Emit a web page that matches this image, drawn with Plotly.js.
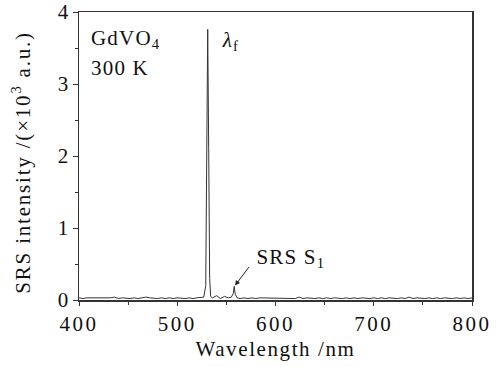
<!DOCTYPE html>
<html><head><meta charset="utf-8">
<script src="https://cdn.plot.ly/plotly-3.0.1.min.js"></script>
<style>
html,body{margin:0;padding:0;background:#fff}
#chart g.xtick text{letter-spacing:2.5px}
#chart text.xtitle{letter-spacing:1.6px}
#chart g.annotation text{letter-spacing:1.2px}
#chart g.annotation.ylab text{letter-spacing:1.8px}
</style>
</head><body><div id="chart" style="width:496px;height:367px"></div>
<script>
// Wavelength (nm)
var wavelength = [400,404,408,412,416,420,424,428,432,436,440,444,448,452,456,460,464,468,472,476,480,484,488,492,496,500,504,508,512,516,520,524,
  527,529,530,531,532,533,534,536,
  540,544,548,552,555,557,558,559,561,
  564,568,572,576,580,584,588,592,596,600,604,608,612,616,620,624,628,632,636,640,644,648,652,656,660,664,668,672,676,680,684,688,692,696,700,704,708,712,716,720,724,728,732,736,740,744,748,752,756,760,764,768,772,776,780,784,788,792,796,800];
// SRS intensity (x10^3 a.u.)
var intensity = [0.03,0.02,0.03,0.03,0.02,0.03,0.02,0.02,0.03,0.04,0.02,0.03,0.02,0.02,0.03,0.02,0.03,0.04,0.03,0.02,0.02,0.03,0.02,0.03,0.02,0.03,0.02,0.02,0.03,0.02,0.03,0.03,
  0.04,0.20,1.60,3.76,2.10,0.30,0.05,0.03,
  0.06,0.02,0.05,0.03,0.04,0.09,0.19,0.08,0.03,
  0.02,0.03,0.02,0.03,0.02,0.03,0.03,0.02,0.03,0.02,0.03,0.02,0.02,0.03,0.02,0.04,0.02,0.03,0.02,0.02,0.03,0.02,0.03,0.02,0.03,0.02,0.02,0.03,0.02,0.03,0.02,0.03,0.02,0.02,0.03,0.02,0.03,0.02,0.03,0.02,0.02,0.03,0.02,0.04,0.02,0.03,0.02,0.02,0.03,0.02,0.03,0.02,0.03,0.02,0.02,0.03,0.02,0.03,0.02,0.03];

var font = {family: '"Liberation Serif", "DejaVu Serif", serif', size: 21, color: '#111'};

var traces = [{
  x: wavelength, y: intensity, type: 'scatter', mode: 'lines',
  line: {color: '#333', width: 1}, hoverinfo: 'none'
}];

var layout = {
  width: 496, height: 367,
  margin: {l: 79, r: 24, t: 12, b: 67},
  paper_bgcolor: '#fff', plot_bgcolor: '#fff',
  font: font,
  showlegend: false,
  xaxis: {
    range: [400, 800], tickvals: [400,500,600,700,800],
    ticks: 'outside', ticklen: 4, tickwidth: 1, tickcolor: '#333',
    minor: {dtick: 50, tick0: 400, ticks: 'outside', ticklen: 3, tickcolor: '#333'},
    showline: true, linecolor: '#333', linewidth: 1.5, mirror: true,
    showgrid: false, zeroline: false,
    title: {text: 'Wavelength /nm', font: font, standoff: 6},
    tickfont: font
  },
  yaxis: {
    range: [0, 4], tickvals: [0,1,2,3,4],
    ticks: 'outside', ticklen: 5, tickwidth: 1, tickcolor: '#333',
    minor: {dtick: 0.5, tick0: 0, ticks: 'outside', ticklen: 3, tickcolor: '#333'},
    showline: true, linecolor: '#333', linewidth: 1.5, mirror: true,
    showgrid: false, zeroline: false,
    tickfont: font
  },
  annotations: [
    {x: -0.147, y: 0.479, xref: 'paper', yref: 'paper', text: 'SRS intensity /(×10<sup>3</sup> a.u.)', textangle: -90, showarrow: false, xanchor: 'center', yanchor: 'middle', font: font},
    {x: 413, y: 3.62, xref: 'x', yref: 'y', text: 'GdVO<sub>4</sub>', showarrow: false, xanchor: 'left', yanchor: 'middle', font: font},
    {x: 413, y: 3.22, xref: 'x', yref: 'y', text: '300 K', showarrow: false, xanchor: 'left', yanchor: 'middle', font: font},
    {x: 545, y: 3.6, xref: 'x', yref: 'y', text: '<i>λ</i><sub>f</sub>', showarrow: false, xanchor: 'left', yanchor: 'middle', font: font},
    {x: 582, y: 0.58, xref: 'x', yref: 'y', text: 'SRS S<sub>1</sub>', showarrow: false, xanchor: 'left', yanchor: 'middle', font: font},
    {x: 558.8, y: 0.2, xref: 'x', yref: 'y', text: '', showarrow: true, arrowhead: 2, arrowsize: 1, arrowwidth: 1, arrowcolor: '#222', ax: 15, ay: -20, standoff: 0}
  ]
};

Plotly.newPlot('chart', traces, layout, {displayModeBar: false, staticPlot: true}).then(function(){
  var a = document.querySelectorAll('#chart g.annotation');
  if (a.length) a[0].classList.add('ylab');
});
</script></body></html>
